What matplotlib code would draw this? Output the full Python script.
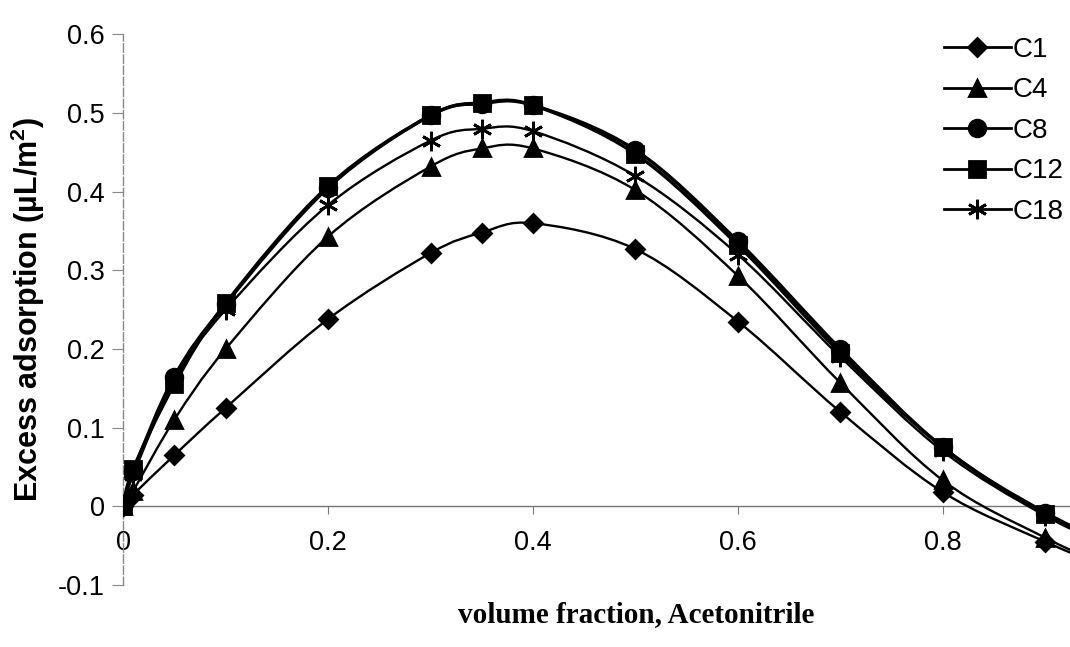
import numpy as np
import matplotlib.pyplot as plt
from matplotlib.path import Path
from matplotlib.patches import PathPatch
from matplotlib.lines import Line2D

plt.rcParams["mathtext.fontset"] = "custom"
plt.rcParams["mathtext.rm"] = "Liberation Sans"
plt.rcParams["mathtext.bf"] = "Liberation Sans:bold"

# volume fraction of acetonitrile (last point lies past the plotted range)
fraction = [0.0, 0.01, 0.05, 0.1, 0.2, 0.3, 0.35, 0.4, 0.5, 0.6, 0.7, 0.8, 0.9, 1.0]

c1 = [0.0, 0.015, 0.065, 0.125, 0.238, 0.322, 0.348, 0.360, 0.327, 0.235, 0.120, 0.018, -0.045, -0.10]
c4 = [0.0, 0.020, 0.110, 0.200, 0.343, 0.432, 0.455, 0.455, 0.402, 0.293, 0.157, 0.033, -0.040, -0.10]
c8 = [0.0, 0.045, 0.165, 0.257, 0.405, 0.497, 0.512, 0.510, 0.453, 0.337, 0.200, 0.075, -0.008, -0.07]
c12 = [0.0, 0.048, 0.155, 0.258, 0.407, 0.497, 0.513, 0.510, 0.448, 0.332, 0.195, 0.075, -0.010, -0.07]
c18 = [0.0, 0.040, 0.160, 0.250, 0.383, 0.465, 0.480, 0.477, 0.420, 0.320, 0.190, 0.070, -0.012, -0.075]

names = ["C1", "C4", "C8", "C12", "C18"]
series = [c1, c4, c8, c12, c18]
markers = ["D", "^", "o", "s", (6, 2, 0)]
msizes = [9, 11, 12, 12, 14]
widths = [1.7, 1.7, 2.4, 2.4, 1.7]

x_ticks = [0, 0.2, 0.4, 0.6, 0.8]
y_ticks = [-0.1, 0, 0.1, 0.2, 0.3, 0.4, 0.5, 0.6]


def smooth_path(xs, ys):
    """Catmull-Rom style bezier path through the points (like Excel smoothed lines)"""
    pts = np.column_stack([xs, ys])
    n = len(pts)
    verts = [pts[0]]
    codes = [Path.MOVETO]
    for i in range(n - 1):
        p0 = pts[max(i - 1, 0)]
        p1 = pts[i]
        p2 = pts[i + 1]
        p3 = pts[min(i + 2, n - 1)]
        verts += [p1 + (p2 - p0) / 6.0, p2 - (p3 - p1) / 6.0, p2]
        codes += [Path.CURVE4] * 3
    return Path(verts, codes)


fig = plt.figure(figsize=(10.70, 6.47), dpi=100)
ax = fig.add_axes([0.115, 0.0958, 0.885, 0.851])

for vals, mk, ms, lw in zip(series, markers, msizes, widths):
    patch = PathPatch(smooth_path(fraction, vals), facecolor="none", edgecolor="black",
                      linewidth=lw, transform=ax.transData, zorder=3)
    ax.add_patch(patch)
    ax.plot(fraction, vals, linestyle="none", marker=mk, markersize=ms,
            color="black", markeredgewidth=2.0, zorder=4, clip_on=True)

ax.set_xlim(0, 0.924)
ax.set_ylim(-0.1, 0.6)

# axes look: y axis on the left, x axis crossing at zero
ax.spines["top"].set_visible(False)
ax.spines["right"].set_visible(False)
ax.spines["bottom"].set_position(("data", 0))
ax.spines["bottom"].set_color("#777777")
ax.spines["left"].set_color("#888888")
ax.spines["left"].set_linestyle((0, (6, 2)))
ax.spines["bottom"].set_linewidth(1.0)
ax.spines["left"].set_linewidth(1.0)

ax.set_xticks(x_ticks)
ax.set_xticklabels([f"{v:g}" for v in x_ticks])
ax.set_yticks(y_ticks)
ax.set_yticklabels([f"{v:g}" for v in y_ticks])
ax.tick_params(axis="x", direction="out", length=6, pad=11, color="#777777",
               labelsize=19.5)
ax.tick_params(axis="y", direction="out", length=8, pad=5, color="#888888",
               labelsize=19.5)
for lab in ax.get_xticklabels() + ax.get_yticklabels():
    lab.set_fontfamily("Liberation Sans")

ax.set_ylabel("Excess adsorption (\u00b5L/m$^{\\mathbf{2}}$)", fontsize=22, fontweight="bold",
              fontfamily="Liberation Sans", labelpad=8)
fig.text(0.595, 0.05, "volume fraction, Acetonitrile", ha="center", va="center",
         fontsize=21, fontweight="bold", fontfamily="Liberation Serif")

# legend
handles = [Line2D([], [], color="black", linewidth=2.0, marker=mk, markersize=ms,
                  markeredgewidth=2.0)
           for mk, ms in zip(markers, msizes)]
leg = ax.legend(handles, names, loc="upper left", bbox_to_anchor=(0.872, 0.96),
                bbox_transform=fig.transFigure, frameon=False, fontsize=20,
                handlelength=2.4, handletextpad=0.05, labelspacing=0.52,
                borderaxespad=0)
for t in leg.get_texts():
    t.set_fontfamily("Liberation Sans")

fig.savefig("out.png", dpi=100)
